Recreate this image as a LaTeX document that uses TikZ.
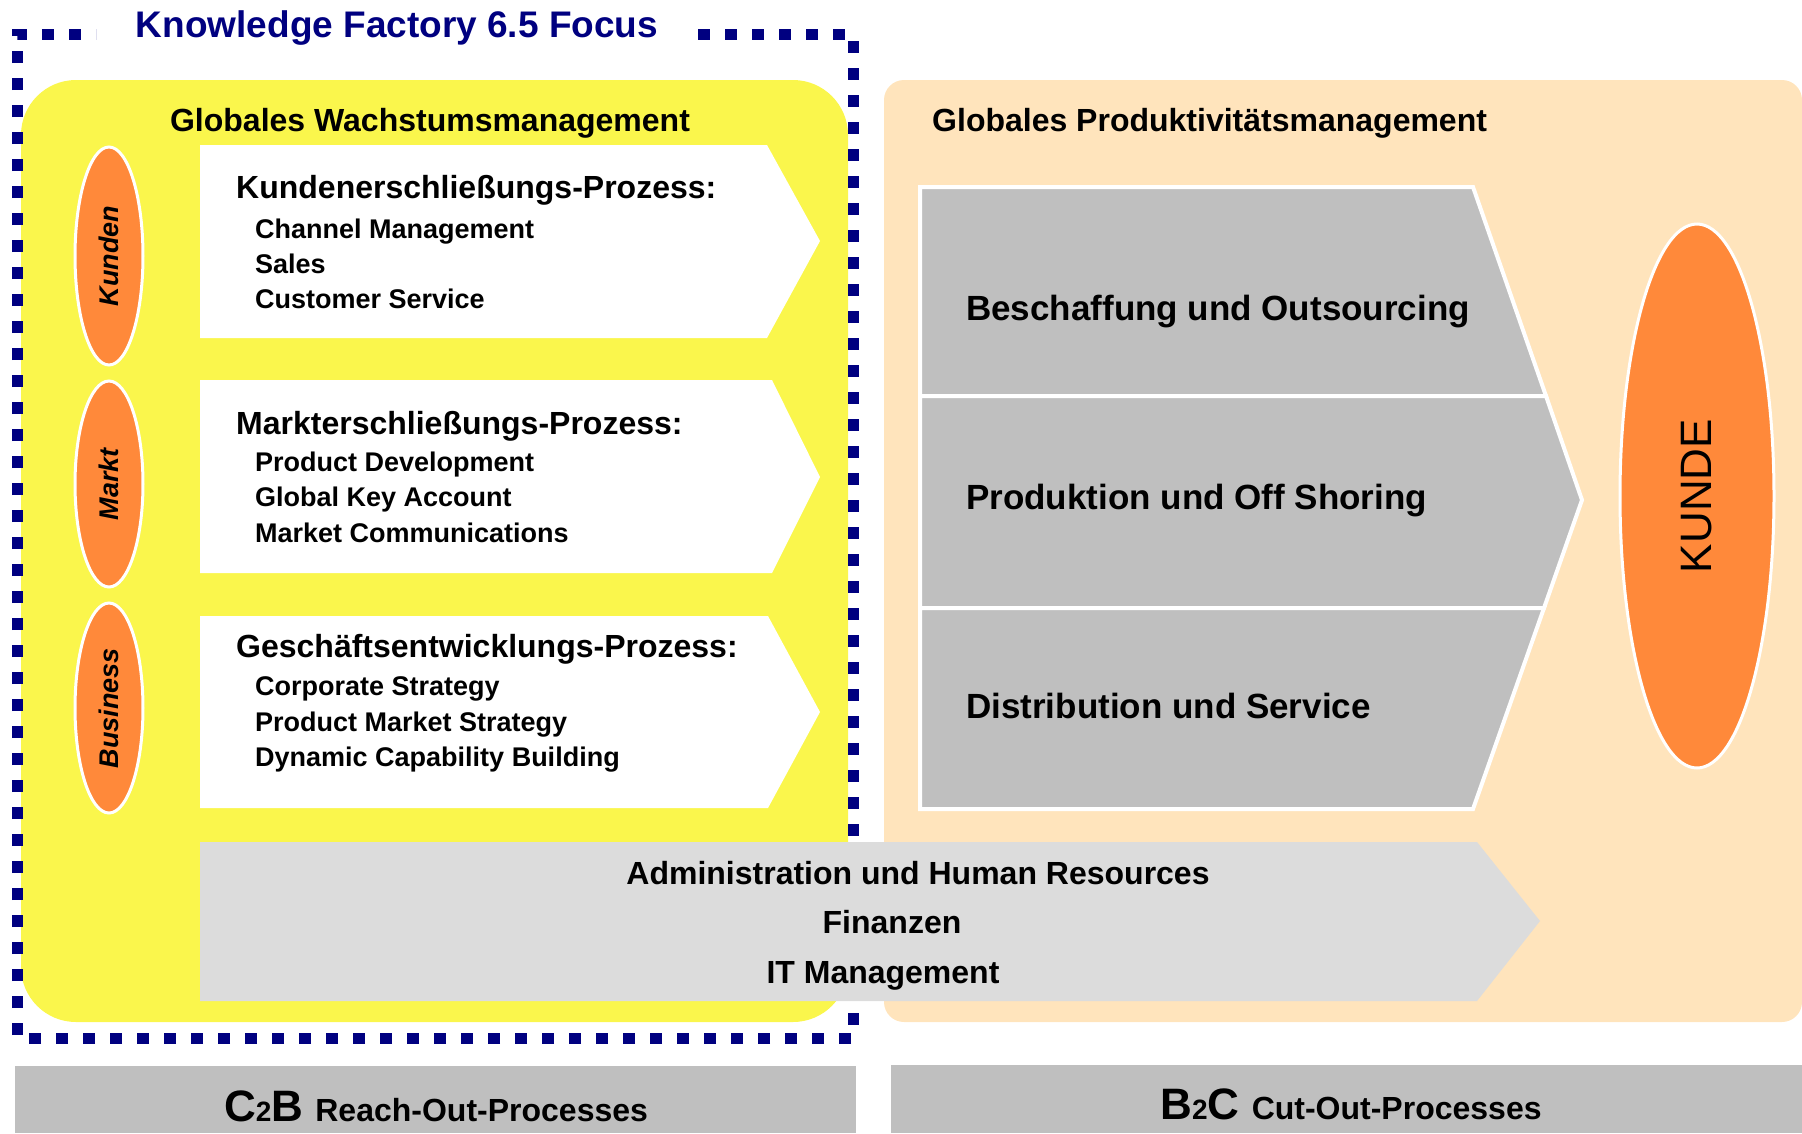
\documentclass[tikz,border=0pt]{standalone}
\usepackage{fontspec}
\setmainfont{Liberation Sans}
\usepackage{tikz}
\usetikzlibrary{shapes.geometric}

\definecolor{focusblue}{RGB}{0,0,128}
\definecolor{growyellow}{RGB}{250,246,76}
\definecolor{prodbeige}{RGB}{255,228,188}
\definecolor{pillorange}{RGB}{255,137,58}
\definecolor{stepgray}{RGB}{191,191,191}
\definecolor{admingray}{RGB}{220,220,220}

\begin{document}
\begin{tikzpicture}[x=1pt,y=-1pt]
    \tikzstyle{pill}=[draw=white,line width=3pt,fill=pillorange,ellipse,rotate=90,inner sep=0pt,minimum height=68pt,font=\fontsize{27}{27}\selectfont\bfseries\itshape]
    \tikzstyle{head}=[anchor=base west,inner sep=0pt,font=\fontsize{32}{32}\selectfont\bfseries]
    \tikzstyle{item}=[anchor=base west,inner sep=0pt,font=\fontsize{27}{27}\selectfont\bfseries]
    \tikzstyle{stepbox}=[anchor=base west,inner sep=0pt,font=\fontsize{35}{35}\selectfont\bfseries]
    \tikzstyle{support}=[anchor=base,inner sep=0pt,font=\fontsize{32}{32}\selectfont\bfseries]
    \tikzstyle{proc}=[fill=white]
    \tikzstyle{chain}=[fill=stepgray,draw=white,line width=4pt,line join=miter]
    \tikzstyle{focusline}=[draw=focusblue,line width=11pt,dash pattern=on 12pt off 15pt]

    \useasboundingbox (0,0) rectangle (1802,1133);

    % panels
    \fill[growyellow,rounded corners=55pt] (21,80) rectangle (848,1022);
    \fill[prodbeige,rounded corners=20pt] (884,80) rectangle (1802,1022);

    \node[head,anchor=base] (growth) at (430,131) {Globales Wachstumsmanagement};
    \node[head] (prodmgmt) at (932,131) {Globales Produktivitätsmanagement};

    % growth processes
    \fill[proc] (200,145) -- (767,145) -- (820,241) -- (767,338) -- (200,338) -- cycle;
    \fill[proc] (200,380) -- (772,380) -- (820,477) -- (772,573) -- (200,573) -- cycle;
    \fill[proc] (200,616) -- (768,616) -- (820,712) -- (768,808) -- (200,808) -- cycle;

    \node[pill,minimum width=218pt] (kunden) at (109,256) {Kunden};
    \node[pill,minimum width=206pt] (markt) at (109,484) {Markt};
    \node[pill,minimum width=210pt] (business) at (109,708) {Business};

    \node[head] (kundenproc) at (236,198) {Kundenerschließungs-Prozess:};
    \node[item] (channel) at (255,238) {Channel Management};
    \node[item] (sales) at (255,273) {Sales};
    \node[item] (service) at (255,308) {Customer Service};

    \node[head] (marktproc) at (236,434) {Markterschließungs-Prozess:};
    \node[item] (product) at (255,471) {Product Development};
    \node[item] (keyaccount) at (255,506) {Global Key Account};
    \node[item] (marketcom) at (255,542) {Market Communications};

    \node[head] (businessproc) at (236,657) {Geschäftsentwicklungs-Prozess:};
    \node[item] (corporate) at (255,695) {Corporate Strategy};
    \node[item] (pms) at (255,731) {Product Market Strategy};
    \node[item] (dcb) at (255,766) {Dynamic Capability Building};

    % productivity chain
    \path[chain] (920,187) -- (1473,187) -- (1546,396) -- (920,396) -- cycle;
    \path[chain] (920,396) -- (1546,396) -- (1582,500) -- (1544,608) -- (920,608) -- cycle;
    \path[chain] (920,608) -- (1544,608) -- (1473,809) -- (920,809) -- cycle;

    \node[stepbox] (beschaffung) at (966,320) {Beschaffung und Outsourcing};
    \node[stepbox] (produktion) at (966,509) {Produktion und Off Shoring};
    \node[stepbox] (distribution) at (966,718) {Distribution und Service};

    \node[draw=white,line width=3pt,fill=pillorange,ellipse,rotate=90,inner sep=0pt,minimum width=544pt,minimum height=154pt,font=\fontsize{44}{44}\selectfont] (kunde) at (1697,496) {KUNDE};

    % focus frame
    \node[anchor=base,inner sep=0pt,text=focusblue,font=\fontsize{37}{37}\selectfont\bfseries] (focus) at (397,37) {Knowledge Factory 6.5 Focus};
    \draw[focusline] (698,34) -- (853,34) -- (853,1038) -- (17,1038) -- (17,34) -- (96,34);

    % support processes
    \fill[admingray] (200,842) -- (1477,842) -- (1540,921) -- (1477,1001) -- (200,1001) -- cycle;
    \node[support] (admin) at (918,884) {Administration und Human Resources};
    \node[support] (finanzen) at (892,933) {Finanzen};
    \node[support] (itmgmt) at (883,983) {IT Management};

    % bottom labels
    \fill[stepgray] (15,1066) rectangle (856,1133);
    \fill[stepgray] (891,1065) rectangle (1802,1133);
    \node[support] (c2b) at (436,1121) {\fontsize{44}{44}\selectfont C{\fontsize{28}{28}\selectfont 2}B \fontsize{32}{32}\selectfont Reach-Out-Processes};
    \node[support] (b2c) at (1351,1119) {\fontsize{44}{44}\selectfont B{\fontsize{28}{28}\selectfont 2}C \fontsize{32}{32}\selectfont Cut-Out-Processes};
\end{tikzpicture}
\end{document}
